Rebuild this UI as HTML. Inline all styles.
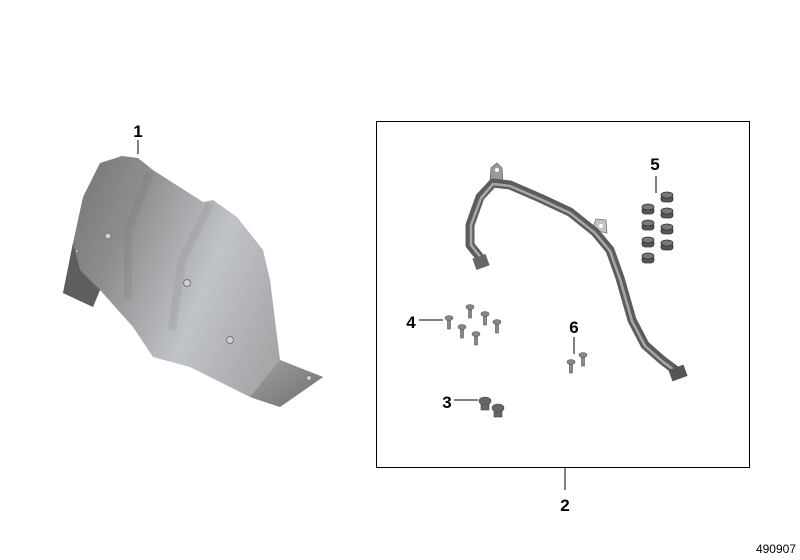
<!DOCTYPE html>
<html><head><meta charset="utf-8"><style>
html,body{margin:0;padding:0;background:#fff;}
svg{display:block;font-family:"Liberation Sans",Arial,sans-serif;}
</style></head><body>
<svg width="800" height="560" viewBox="0 0 800 560" xmlns="http://www.w3.org/2000/svg">
<defs>
<linearGradient id="sh" x1="0" y1="0" x2="1" y2="0.4">
<stop offset="0" stop-color="#707070"/><stop offset="0.3" stop-color="#8e8e8e"/><stop offset="0.65" stop-color="#c0c3c8"/><stop offset="1" stop-color="#a4a4a6"/>
</linearGradient>
<linearGradient id="tab" x1="0" y1="0" x2="1" y2="1">
<stop offset="0" stop-color="#a0a0a0"/><stop offset="1" stop-color="#707070"/>
</linearGradient>
</defs>
<text x="138" y="137" font-size="17" font-weight="bold" text-anchor="middle">1</text>
<line x1="138" y1="140" x2="138" y2="154" stroke="#000" stroke-width="1"/>
<path d="M100,163 L122,156 L138,158 L153,170 L203,202 L213,200 L237,217 L263,250 L270,280 L280,360 L323,377 L280,407 L250,397 L190,367 L153,357 L133,327 L100,290 L93,307 L63,293 L73,243 L83,197 Z" fill="url(#sh)"/>
<path d="M63,293 L73,243 L80,270 L100,290 L93,307 Z" fill="#5e5e5e"/>
<path d="M250,397 L280,360 L323,377 L280,407 Z" fill="url(#tab)"/>
<path d="M150,172 L128,230 L128,300" stroke="#666" stroke-width="8" fill="none" opacity="0.15"/>
<path d="M210,204 L182,260 L172,330" stroke="#666" stroke-width="8" fill="none" opacity="0.12"/>
<g fill="#d0d0d0" stroke="#777" stroke-width="1">
<circle cx="108" cy="236" r="3"/><circle cx="187" cy="283" r="3.5"/><circle cx="230" cy="340" r="3.5"/><circle cx="309" cy="378" r="2.5"/><circle cx="77" cy="251" r="1.5"/>
</g>
<rect x="376.5" y="121.5" width="373" height="346" fill="none" stroke="#000" stroke-width="1"/>
<line x1="565" y1="467" x2="565" y2="490" stroke="#000"/>
<text x="565" y="511" font-size="17" font-weight="bold" text-anchor="middle">2</text>
<path d="M490,182 L491,168 L497,163 L502,168 L503,184 Z" fill="#9a9a9a" stroke="#666" stroke-width="0.8"/>
<circle cx="497" cy="170" r="2" fill="#fff"/>
<path d="M592,230 L596,219 L606,220 L607,233 Z" fill="#c4c4c4" stroke="#777" stroke-width="0.8"/>
<circle cx="601" cy="226" r="2" fill="#fff"/>
<path d="M482,260 L470,245 L470,225 L480,197 L493,183 L510,185 L540,198 L570,212 L595,232 L610,250 L620,278 L632,320 L645,345 L662,360 L678,372" stroke="#5c5c5c" stroke-width="9" fill="none" stroke-linejoin="round" stroke-linecap="round"/>
<path d="M482,259 L471,245 L471,225 L481,198 L493,184 L510,186 L540,199 L570,213 L595,233 L610,251 L620,279 L632,321 L645,346 L662,361 L678,373" stroke="#a8a8a8" stroke-width="2.5" fill="none" stroke-linejoin="round"/>
<rect x="474" y="256" width="14" height="12" fill="#666" transform="rotate(-20 481 262)"/>
<rect x="670" y="367" width="16" height="12" fill="#555" transform="rotate(-20 678 373)"/>
<text x="655" y="170" font-size="17" font-weight="bold" text-anchor="middle">5</text>
<line x1="656" y1="176" x2="656" y2="193" stroke="#000"/>
<g fill="#555" stroke="#333" stroke-width="0.8">
<rect x="642" y="207" width="12" height="7" rx="3"/><ellipse cx="648" cy="207" rx="6" ry="3" fill="#777"/>
<rect x="642" y="223" width="12" height="7" rx="3"/><ellipse cx="648" cy="223" rx="6" ry="3" fill="#777"/>
<rect x="642" y="240" width="12" height="7" rx="3"/><ellipse cx="648" cy="240" rx="6" ry="3" fill="#777"/>
<rect x="642" y="256" width="12" height="7" rx="3"/><ellipse cx="648" cy="256" rx="6" ry="3" fill="#777"/>
<rect x="661" y="195" width="12" height="7" rx="3"/><ellipse cx="667" cy="195" rx="6" ry="3" fill="#777"/>
<rect x="661" y="211" width="12" height="7" rx="3"/><ellipse cx="667" cy="211" rx="6" ry="3" fill="#777"/>
<rect x="661" y="227" width="12" height="7" rx="3"/><ellipse cx="667" cy="227" rx="6" ry="3" fill="#777"/>
<rect x="661" y="243" width="12" height="7" rx="3"/><ellipse cx="667" cy="243" rx="6" ry="3" fill="#777"/>
</g>
<text x="411" y="328" font-size="17" font-weight="bold" text-anchor="middle">4</text>
<line x1="419" y1="320" x2="443" y2="320" stroke="#000"/>
<g fill="#888" stroke="#555" stroke-width="0.6">
<g transform="translate(449,318)"><rect x="-1.5" y="0" width="3" height="11"/><ellipse cx="0" cy="0" rx="4" ry="2.5"/></g>
<g transform="translate(470,307)"><rect x="-1.5" y="0" width="3" height="11"/><ellipse cx="0" cy="0" rx="4" ry="2.5"/></g>
<g transform="translate(485,314)"><rect x="-1.5" y="0" width="3" height="11"/><ellipse cx="0" cy="0" rx="4" ry="2.5"/></g>
<g transform="translate(497,322)"><rect x="-1.5" y="0" width="3" height="11"/><ellipse cx="0" cy="0" rx="4" ry="2.5"/></g>
<g transform="translate(462,327)"><rect x="-1.5" y="0" width="3" height="11"/><ellipse cx="0" cy="0" rx="4" ry="2.5"/></g>
<g transform="translate(476,334)"><rect x="-1.5" y="0" width="3" height="11"/><ellipse cx="0" cy="0" rx="4" ry="2.5"/></g>
<g transform="translate(571,362)"><rect x="-1.5" y="0" width="3" height="11"/><ellipse cx="0" cy="0" rx="4" ry="2.5"/></g>
<g transform="translate(583,355)"><rect x="-1.5" y="0" width="3" height="11"/><ellipse cx="0" cy="0" rx="4" ry="2.5"/></g>
</g>
<text x="574" y="333" font-size="17" font-weight="bold" text-anchor="middle">6</text>
<line x1="574" y1="337" x2="574" y2="354" stroke="#000"/>
<text x="447" y="408" font-size="17" font-weight="bold" text-anchor="middle">3</text>
<line x1="454" y1="400" x2="478" y2="400" stroke="#000"/>
<g fill="#666" stroke="#444" stroke-width="0.6">
<rect x="481" y="401" width="8" height="9"/><ellipse cx="485" cy="401" rx="6" ry="4"/>
<rect x="494" y="408" width="8" height="9"/><ellipse cx="498" cy="408" rx="6" ry="4"/>
</g>
<text x="796" y="553" font-size="12" text-anchor="end" fill="#000">490907</text>
</svg>
</body></html>
